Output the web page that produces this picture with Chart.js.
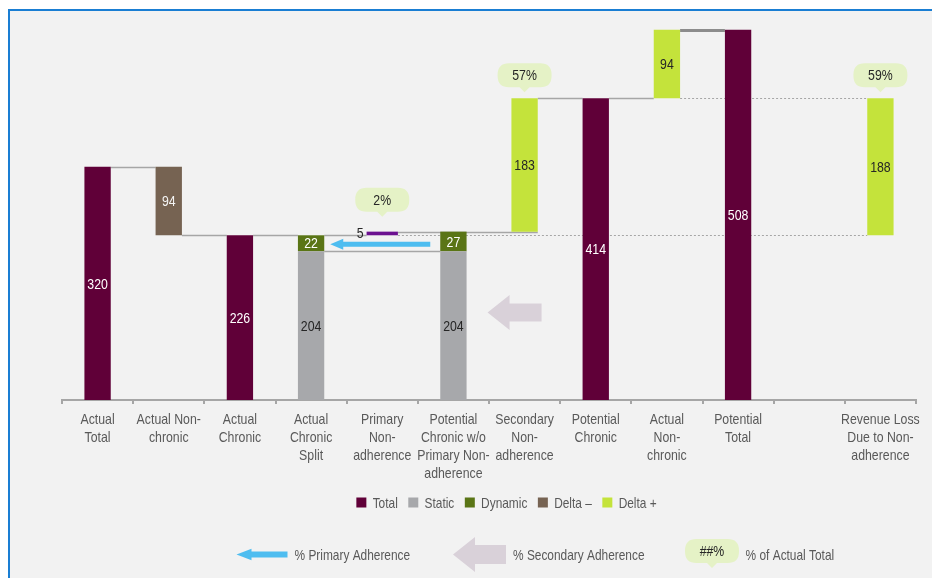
<!DOCTYPE html>
<html>
<head>
<meta charset="utf-8">
<script src="https://cdn.jsdelivr.net/npm/chart.js@4.4.1/dist/chart.umd.min.js"></script>
<style>
  html, body { margin: 0; padding: 0; background: #ffffff; }
  #wrap { position: relative; width: 932px; height: 578px; overflow: hidden; }
  #frame { position: absolute; left: 8px; top: 9px; right: -10px; bottom: -10px;
           border-left: 2px solid #1a7ed3; border-top: 2px solid #1a7ed3; background: #f2f2f2; }
  #c { position: absolute; left: 0; top: 0; }
</style>
</head>
<body>
<div id="wrap">
  <div id="frame"></div>
  <canvas id="c" width="932" height="578"></canvas>
</div>
<script>
// ---- chart data ----
const categories = [
  ["Actual", "Total"],
  ["Actual Non-", "chronic"],
  ["Actual", "Chronic"],
  ["Actual", "Chronic", "Split"],
  ["Primary", "Non-", "adherence"],
  ["Potential", "Chronic w/o", "Primary Non-", "adherence"],
  ["Secondary", "Non-", "adherence"],
  ["Potential", "Chronic"],
  ["Actual", "Non-", "chronic"],
  ["Potential", "Total"],
  "",
  ["Revenue Loss", "Due to Non-", "adherence"]
];

// floating bars: [low, high]
const totalBars   = [[0, 320], null, [0, 226], null, null, null, null, [0, 414], null, [0, 508], null, null];
const staticBars  = [null, null, null, [0, 204], null, [0, 204], null, null, null, null, null, null];
const dynamicBars = [null, null, null, [204, 226], null, [204, 231], null, null, null, null, null, null];
const deltaMinus  = [null, [226, 320], null, null, null, null, null, null, null, null, null, null];
const deltaPlus   = [null, null, null, null, null, null, [231, 414], null, [414, 508], null, null, [226, 414]];
const primaryGap  = [null, null, null, null, [226, 231], null, null, null, null, null, null, null];

// share of actual total shown in callouts
const bubbleLabels = ["", "", "", "", "2%", "", "57%", "", "", "", "", "59%"];

const legendNames = ["Total", "Static", "Dynamic", "Delta \u2013", "Delta +"];

const FONT = "'Liberation Sans', Arial, sans-serif";
const SQUEEZE = 0.82;           // horizontal condensing of all text
const TEXT_GREY = '#595959';
const LINE_GREY = '#a6a6a6';

const COLORS = {
  total: '#600038', stat: '#a7a8ab', dyn: '#5a7516',
  minus: '#766352', plus: '#c4e33b', primary: '#6c1190',
  bubble: '#e5f2c6', blueArrow: '#4ebdf0', greyArrow: '#d9d1d9'
};

// waterfall connector lines (levels in data units, between category indices)
const connectors = [
  { value: 320, from: 0, to: 1 },
  { value: 226, from: 1, to: 2 },
  { value: 226, from: 2, to: 3 },
  { value: 226, from: 3, to: 4 },
  { value: 204, from: 3, to: 5 },
  { value: 231, from: 4, to: 6, toEdge: 'right' },
  { value: 226, from: 4, to: 11, dash: true },
  { value: 414, from: 6, to: 7 },
  { value: 414, from: 7, to: 8 },
  { value: 414, from: 8, to: 11, dash: true },
  { value: 508, from: 8, to: 9, width: 3, color: '#8c8c8c' }
];

function barDataset(label, data, color, labelColor, extra) {
  return Object.assign({
    label, data, backgroundColor: color, borderWidth: 0,
    grouped: false, barPercentage: 0.37, categoryPercentage: 1.0,
    labelColor
  }, extra || {});
}

const datasets = [
  barDataset('Total', totalBars, COLORS.total, '#ffffff'),
  barDataset('Static', staticBars, COLORS.stat, '#262626'),
  barDataset('Dynamic', dynamicBars, COLORS.dyn, '#ffffff'),
  barDataset('Delta \u2013', deltaMinus, COLORS.minus, '#f4f4f4'),
  barDataset('Delta +', deltaPlus, COLORS.plus, '#262626'),
  barDataset('Primary', primaryGap, COLORS.primary, '#262626', { barPercentage: 0.44, sideLabel: true })
];

function narrowText(ctx, text, x, y, align) {
  ctx.save();
  ctx.translate(x, y);
  ctx.scale(SQUEEZE, 1);
  ctx.textAlign = align || 'left';
  ctx.fillText(text, 0, 0);
  ctx.restore();
}

function barExtent(chart, idx) {
  let left = Infinity, right = -Infinity, top = -Infinity;
  chart.data.datasets.forEach((ds, di) => {
    const v = ds.data[idx];
    if (!v) return;
    const el = chart.getDatasetMeta(di).data[idx];
    left = Math.min(left, el.x - el.width / 2);
    right = Math.max(right, el.x + el.width / 2);
    top = Math.max(top, v[1]);
  });
  return { left, right, top };
}

function leftArrow(ctx, tipX, cy, len, headLen, headH, shaftH, color) {
  ctx.save();
  ctx.fillStyle = color;
  ctx.beginPath();
  ctx.moveTo(tipX, cy);
  ctx.lineTo(tipX + headLen, cy - headH / 2);
  ctx.lineTo(tipX + headLen, cy - shaftH / 2);
  ctx.lineTo(tipX + len, cy - shaftH / 2);
  ctx.lineTo(tipX + len, cy + shaftH / 2);
  ctx.lineTo(tipX + headLen, cy + shaftH / 2);
  ctx.lineTo(tipX + headLen, cy + headH / 2);
  ctx.closePath();
  ctx.fill();
  ctx.restore();
}

function bubble(ctx, cx, tipY, text, w, h, tail) {
  const r = 11.5;
  const x = cx - w / 2, y = tipY - tail - h;
  ctx.save();
  ctx.fillStyle = COLORS.bubble;
  ctx.beginPath();
  ctx.moveTo(x + r, y);
  ctx.lineTo(x + w - r, y);
  ctx.quadraticCurveTo(x + w, y, x + w, y + r);
  ctx.lineTo(x + w, y + h - r);
  ctx.quadraticCurveTo(x + w, y + h, x + w - r, y + h);
  ctx.lineTo(cx + 5, y + h);
  ctx.lineTo(cx, tipY);
  ctx.lineTo(cx - 5, y + h);
  ctx.lineTo(x + r, y + h);
  ctx.quadraticCurveTo(x, y + h, x, y + h - r);
  ctx.lineTo(x, y + r);
  ctx.quadraticCurveTo(x, y, x + r, y);
  ctx.closePath();
  ctx.fill();
  ctx.fillStyle = '#262626';
  ctx.font = '15px ' + FONT;
  ctx.textBaseline = 'middle';
  narrowText(ctx, text, cx, y + h / 2 + 1, 'center');
  ctx.restore();
}

const waterfallPlugin = {
  id: 'waterfall',
  beforeDatasetsDraw(chart) {
    const ctx = chart.ctx, y = chart.scales.y;
    ctx.save();
    connectors.forEach(c => {
      const a = barExtent(chart, c.from), b = barExtent(chart, c.to);
      const py = Math.round(y.getPixelForValue(c.value)) + 0.5;
      const x1 = a.right, x2 = c.toEdge === 'right' ? b.right : b.left;
      ctx.strokeStyle = c.color || LINE_GREY;
      ctx.lineWidth = c.width || (c.dash ? 1 : 1.5);
      ctx.setLineDash(c.dash ? [2, 2] : []);
      ctx.beginPath();
      ctx.moveTo(x1, py);
      ctx.lineTo(x2, py);
      ctx.stroke();
    });
    ctx.restore();
  },
  afterDatasetsDraw(chart) {
    const ctx = chart.ctx, y = chart.scales.y, xs = chart.scales.x;
    ctx.save();
    ctx.font = '15px ' + FONT;
    ctx.textBaseline = 'middle';
    // value labels
    chart.data.datasets.forEach((ds, di) => {
      const meta = chart.getDatasetMeta(di);
      ds.data.forEach((v, i) => {
        if (!v) return;
        const el = meta.data[i];
        const val = v[1] - v[0];
        const cy = (y.getPixelForValue(v[0]) + y.getPixelForValue(v[1])) / 2;
        ctx.fillStyle = ds.labelColor;
        if (ds.sideLabel) {
          narrowText(ctx, String(val), el.x - el.width / 2 - 3, cy, 'right');
        } else {
          narrowText(ctx, String(val), el.x, cy + 1, 'center');
        }
      });
    });

    // category labels under the axis
    ctx.font = '15px ' + FONT;
    ctx.fillStyle = TEXT_GREY;
    categories.forEach((lab, i) => {
      const lines = Array.isArray(lab) ? lab : [lab];
      const px = xs.getPixelForValue(i);
      lines.forEach((ln, k) => narrowText(ctx, ln, px, 420 + k * 18, 'center'));
    });

    // adherence arrows
    const split = barExtent(chart, 3), pot = barExtent(chart, 5);
    const dynMid = y.getPixelForValue((dynamicBars[3][0] + dynamicBars[3][1]) / 2);
    leftArrow(ctx, split.right + 6, dynMid + 1, (pot.left - 10) - (split.right + 6), 13, 11, 5, COLORS.blueArrow);
    leftArrow(ctx, pot.right + 21, y.getPixelForValue(120), 54, 22, 35, 18, COLORS.greyArrow);

    // callouts
    bubbleLabels.forEach((t, i) => {
      if (!t) return;
      const ext = barExtent(chart, i);
      const lift = i === 4 ? 15 : 6;
      bubble(ctx, (ext.left + ext.right) / 2, y.getPixelForValue(ext.top) - lift, t, 54, 24, 5);
    });
    ctx.restore();
  },
  afterDraw(chart) {
    const ctx = chart.ctx;
    ctx.save();
    ctx.font = '14.5px ' + FONT;
    ctx.textBaseline = 'middle';
    // series legend
    const legendColors = [COLORS.total, COLORS.stat, COLORS.dyn, COLORS.minus, COLORS.plus];
    const gap = 10.5, boxToText = 16.3;
    const widths = legendNames.map(n => ctx.measureText(n).width * SQUEEZE);
    const total = widths.reduce((s, w) => s + w + boxToText, 0) + gap * (legendNames.length - 1);
    let x = 506.5 - total / 2;
    const ly = 502.5;
    legendNames.forEach((n, k) => {
      ctx.fillStyle = legendColors[k];
      ctx.fillRect(x, ly - 5, 10, 10);
      ctx.fillStyle = TEXT_GREY;
      narrowText(ctx, n, x + boxToText, ly + 1, 'left');
      x += boxToText + widths[k] + gap;
    });
    // symbol legend
    const ry = 554.5;
    leftArrow(ctx, 236.5, ry, 51, 15, 11.5, 6, COLORS.blueArrow);
    ctx.fillStyle = TEXT_GREY;
    narrowText(ctx, '% Primary Adherence', 294.5, ry + 1, 'left');
    leftArrow(ctx, 453, ry, 53, 22, 35, 19, COLORS.greyArrow);
    ctx.fillStyle = TEXT_GREY;
    narrowText(ctx, '% Secondary Adherence', 513, ry + 1, 'left');
    bubble(ctx, 712, 568, '##%', 54, 24, 5);
    ctx.fillStyle = TEXT_GREY;
    ctx.font = '14.5px ' + FONT;
    ctx.textBaseline = 'middle';
    narrowText(ctx, '% of Actual Total', 745.6, ry + 1, 'left');
    ctx.restore();
  }
};

new Chart(document.getElementById('c'), {
  type: 'bar',
  data: { labels: categories, datasets },
  options: {
    responsive: false,
    animation: false,
    devicePixelRatio: 1,
    layout: { padding: { left: 62, right: 16, top: 21, bottom: 0 } },
    plugins: { legend: { display: false }, tooltip: { enabled: false } },
    scales: {
      x: {
        offset: true,
        grid: { display: true, drawOnChartArea: false, drawTicks: true, tickLength: 4,
                color: LINE_GREY, lineWidth: 2, offset: true },
        border: { display: true, color: LINE_GREY, width: 2 },
        ticks: { display: false },
        afterFit(scale) { scale.height = 178; }
      },
      y: { display: false, min: 0, max: 520 }
    }
  },
  plugins: [waterfallPlugin]
});
</script>
</body>
</html>
